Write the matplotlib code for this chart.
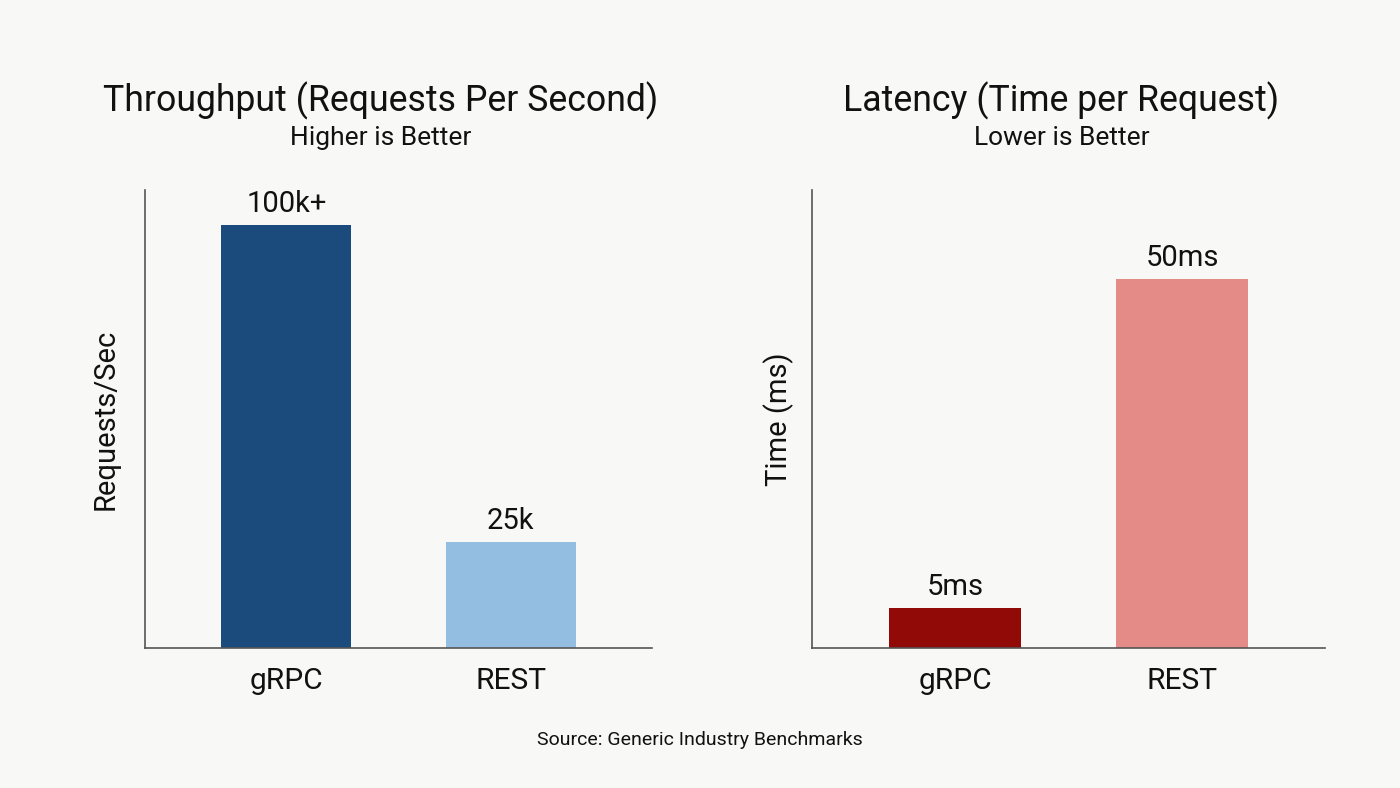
import matplotlib.pyplot as plt

plt.rcParams['font.family'] = ['Roboto', 'DejaVu Sans']

# Data
protocols = ["gRPC", "REST"]
throughputValues = [100, 25]
throughputLabels = ["100k+", "25k"]
latencyValues = [5.4, 50]
latencyLabels = ["5ms", "50ms"]

throughputColors = ["#1a4b7c", "#93bde1"]
latencyColors = ["#920a08", "#e48a87"]

background = "#f8f8f6"

fig = plt.figure(figsize=(14, 7.88), dpi=100, facecolor=background)

# Axes positions in figure fractions
leftAxes = fig.add_axes([145 / 1400, 1 - 648 / 788, 507 / 1400, 458 / 788])
rightAxes = fig.add_axes([812 / 1400, 1 - 648 / 788, 513 / 1400, 458 / 788])


def drawPanel(ax, values, labels, colors, ylabel, ypad, ymax, title, subtitle, titleX):
    ax.set_facecolor(background)
    bars = ax.bar(range(len(protocols)), values, width=0.58, color=colors)
    for bar, text in zip(bars, labels):
        ax.annotate(text, (bar.get_x() + bar.get_width() / 2, bar.get_height()),
                    xytext=(0, 5), textcoords="offset points",
                    ha="center", va="bottom", fontsize=21, color="#111111")
    ax.set_xlim(-0.63, 1.63)
    ax.set_ylim(0, ymax)
    ax.set_xticks(range(len(protocols)))
    ax.set_xticklabels(protocols, fontsize=21.5, color="#111111")
    ax.tick_params(axis="x", length=0, pad=14)
    ax.set_yticks([])
    ax.set_ylabel(ylabel, fontsize=21, color="#111111", labelpad=ypad)
    for side in ["top", "right"]:
        ax.spines[side].set_visible(False)
    for side in ["left", "bottom"]:
        ax.spines[side].set_color("#555555")
        ax.spines[side].set_linewidth(1.2)
    ax.text(titleX, 1.195, title, transform=ax.transAxes, ha="center", va="center",
            fontsize=25.7, color="#111111")
    ax.text(titleX, 1.113, subtitle, transform=ax.transAxes, ha="center", va="center",
            fontsize=19, color="#111111")


drawPanel(leftAxes, throughputValues, throughputLabels, throughputColors,
          "Requests/Sec", 18, 108.3, "Throughput (Requests Per Second)", "Higher is Better",
          0.5 - 18 / 507)
drawPanel(rightAxes, latencyValues, latencyLabels, latencyColors,
          "Time (ms)", 13, 62, "Latency (Time per Request)", "Lower is Better",
          0.5 - 7 / 513)

fig.text(0.5, 1 - 740 / 788, "Source: Generic Industry Benchmarks", ha="center", va="center",
         fontsize=14, color="#111111")

fig.savefig("out.png", dpi=100, facecolor=background)
